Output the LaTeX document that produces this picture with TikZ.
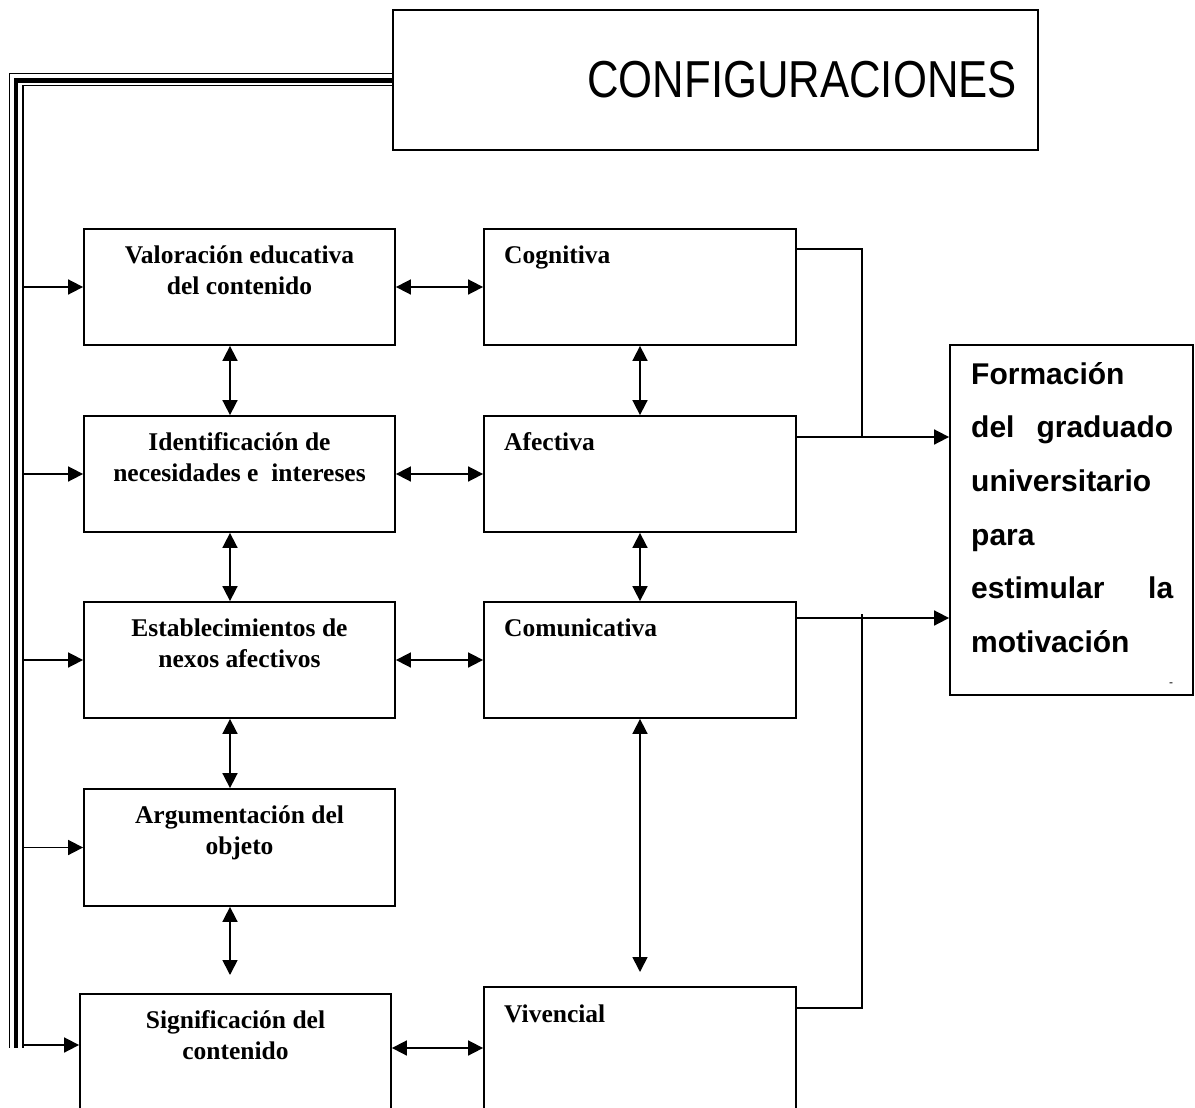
\documentclass[tikz,border=0pt]{standalone}
\usepackage{fontspec}
\usepackage{graphicx}
\setmainfont{Liberation Serif}
\newfontfamily\arialfam{Liberation Sans}
\usetikzlibrary{arrows.meta}
\tikzset{
  cajon/.style={draw, line width=1.8pt, inner sep=0pt, minimum width=311pt, minimum height=116pt},
  rotulo/.style={inner sep=0pt, font=\fontsize{25.5}{31}\selectfont\bfseries},
  flecha/.style={line width=1.7pt, -{Triangle[length=15pt,width=15pt]}},
  dflecha/.style={line width=1.7pt, {Triangle[length=15pt,width=15pt]}-{Triangle[length=15pt,width=15pt]}},
  linea/.style={line width=1.6pt}
}
\begin{document}
\begin{tikzpicture}[x=1pt,y=-1pt]
  \useasboundingbox (0,0) rectangle (1195,1108);
  \clip (0,0) rectangle (1195,1108);
  % caja superior y linea triple
  \node (cfg) at (715.5,80) [cajon, minimum width=645pt, minimum height=140pt] {};
  \node (cfgt) at (1017,97) [anchor=base east, inner sep=0pt,
    font=\arialfam\fontsize{52}{60}\selectfont] {\scalebox{0.84}[1]{CONFIGURACIONES}};
  \coordinate (bus) at (9.5,1048);
  \foreach \dy/\dx/\w in {6.5/0/1.7, -0.5/6.5/4.5, -5.5/13.5/1.8}
    \draw[line width=\w pt] ([yshift=\dy pt]cfg.west) -| ([xshift=\dx pt]bus);
  % columna izquierda
  \node (vae) at (239.5,287) [cajon] {};
  \node (inn) at (239.5,474) [cajon] {};
  \node (ena) at (239.5,660) [cajon] {};
  \node (arg) at (239.5,847.5) [cajon, minimum height=117pt] {};
  \node (sig) at (235.5,1053) [cajon, minimum height=118pt] {};
  \node (vaet) at (239.5,241.3) [rotulo, anchor=north, align=center] {\strut Valoración educativa\\del contenido};
  \node (innt) at (239.5,428.3) [rotulo, anchor=north, align=center] {\strut Identificación de\\necesidades e~ intereses};
  \node (enat) at (239.5,614.3) [rotulo, anchor=north, align=center] {\strut Establecimientos de\\nexos afectivos};
  \node (argt) at (239.5,801.3) [rotulo, anchor=north, align=center] {\strut Argumentación del\\objeto};
  \node (sigt) at (235.5,1006.3) [rotulo, anchor=north, align=center] {\strut Significación del\\contenido};
  % columna central
  \node (cog) at (640,287) [cajon, minimum width=312pt] {};
  \node (afe) at (640,474) [cajon, minimum width=312pt] {};
  \node (com) at (640,660) [cajon, minimum width=312pt] {};
  \node (viv) at (640,1049.5) [cajon, minimum width=312pt, minimum height=125pt] {};
  \node (cogt) at (504,241.3) [rotulo, anchor=north west] {\strut Cognitiva};
  \node (afet) at (504,428.3) [rotulo, anchor=north west] {\strut Afectiva};
  \node (comt) at (504,614.3) [rotulo, anchor=north west] {\strut Comunicativa};
  \node (vivt) at (504,1000.3) [rotulo, anchor=north west] {\strut Vivencial};
  % caja derecha
  \node (fgu) at (1071.5,520) [cajon, minimum width=243pt, minimum height=350pt] {};
  \node (fgut) at (971,346.4) [anchor=north west, inner sep=0pt, align=left,
    font=\arialfam\bfseries\fontsize{30}{53.7}\selectfont]
    {\strut Formación\\\makebox[202pt][s]{del graduado}\\universitario\\para\\\makebox[202pt][s]{estimular la}\\motivación};
  \node (guion) at (1171,685) [inner sep=0pt, font=\arialfam\fontsize{12}{14}\selectfont] {-};
  % entradas desde la linea triple
  \foreach \n in {vae,inn,ena,arg}
    \draw[flecha] ([xshift=13.5pt]bus |- \n.west) -- (\n.west);
  \draw[flecha] ([xshift=13.5pt,yshift=8pt]bus |- sig.west) -- ([yshift=8pt]sig.west);
  % flechas dobles horizontales
  \draw[dflecha] (vae.east) -- (cog.west);
  \draw[dflecha] (inn.east) -- (afe.west);
  \draw[dflecha] (ena.east) -- (com.west);
  \draw[dflecha] ([yshift=5pt]sig.east) -- ([yshift=5pt]sig.east -| viv.west);
  % flechas dobles verticales
  \coordinate (xl) at (230,0);
  \coordinate (argfin) at (230,975);
  \coordinate (comfin) at (640,972);
  \draw[dflecha] (vae.south -| xl) -- (inn.north -| xl);
  \draw[dflecha] (inn.south -| xl) -- (ena.north -| xl);
  \draw[dflecha] (ena.south -| xl) -- (arg.north -| xl);
  \draw[dflecha] (arg.south -| xl) -- (argfin);
  \draw[dflecha] (cog.south) -- (afe.north);
  \draw[dflecha] (afe.south) -- (com.north);
  \draw[dflecha] (com.south) -- (comfin);
  % conexiones a la caja derecha
  \coordinate (ja) at (862,437);
  \coordinate (jb) at (862,614);
  \draw[linea] ([yshift=38pt]cog.east) -| (ja);
  \draw[flecha] ([yshift=37pt]afe.east) -- ([yshift=37pt]afe.east -| fgu.west);
  \draw[flecha] ([yshift=42pt]com.east) -- ([yshift=42pt]com.east -| fgu.west);
  \draw[linea] ([yshift=41.5pt]viv.east) -| (jb);
\end{tikzpicture}
\end{document}
